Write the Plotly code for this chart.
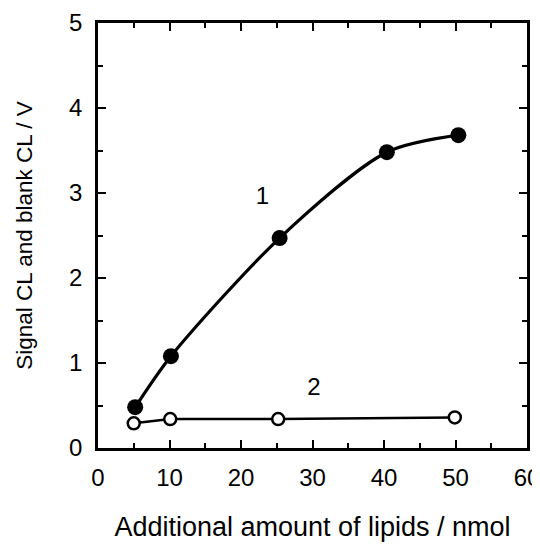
import plotly.graph_objects as go

# data
x_signal = [5.2, 10.2, 25.4, 40.4, 50.4]
y_signal = [0.48, 1.08, 2.47, 3.48, 3.68]
x_blank = [5.0, 10.1, 25.2, 49.9]
y_blank = [0.29, 0.34, 0.34, 0.36]
labels = ["1", "2"]
label_x = [23.0, 30.2]
label_y = [2.94, 0.69]

FONT = "Liberation Sans, Arial"

fig = go.Figure()
fig.add_trace(go.Scatter(x=x_signal, y=y_signal, mode="lines+markers",
                         line=dict(color="black", width=3.2, shape="spline", smoothing=0.8),
                         marker=dict(color="black", size=16, symbol="circle")))
fig.add_trace(go.Scatter(x=x_blank, y=y_blank, mode="lines+markers",
                         line=dict(color="black", width=2.5),
                         marker=dict(color="white", size=12, symbol="circle",
                                     line=dict(color="black", width=2.5))))
fig.add_trace(go.Scatter(x=label_x, y=label_y, mode="text", text=labels,
                         textfont=dict(family=FONT, size=24, color="black")))

axis_common = dict(showgrid=False, zeroline=False, showline=True, linecolor="black",
                   linewidth=2.5, mirror="allticks", ticks="inside", ticklen=8,
                   tickwidth=2, tickcolor="black", automargin=False,
                   ticklabeloverflow="allow",
                   tickfont=dict(family=FONT, size=24, color="black"))

# the page body has an 8px default margin, so the figure is sized/margined to compensate
fig.update_layout(
    width=532, height=534,
    margin=dict(l=90, r=13, t=15, b=94),
    plot_bgcolor="white", paper_bgcolor="white",
    showlegend=False,
    font=dict(family=FONT, color="black"),
    xaxis=dict(range=[0, 60], tick0=0, dtick=10,
               minor=dict(ticks="inside", dtick=5, ticklen=5, tickwidth=2, tickcolor="black"),
               title=dict(text="Additional amount of lipids / nmol",
                          font=dict(size=27), standoff=32),
               ticklabelstandoff=6,
               **axis_common),
    yaxis=dict(range=[0, 5], tick0=0, dtick=1,
               minor=dict(ticks="inside", dtick=0.5, ticklen=5, tickwidth=2, tickcolor="black"),
               title=dict(text="Signal CL and blank CL / V",
                          font=dict(size=22.5), standoff=31),
               ticklabelstandoff=8,
               **axis_common),
)

fig.write_html("out.html")
